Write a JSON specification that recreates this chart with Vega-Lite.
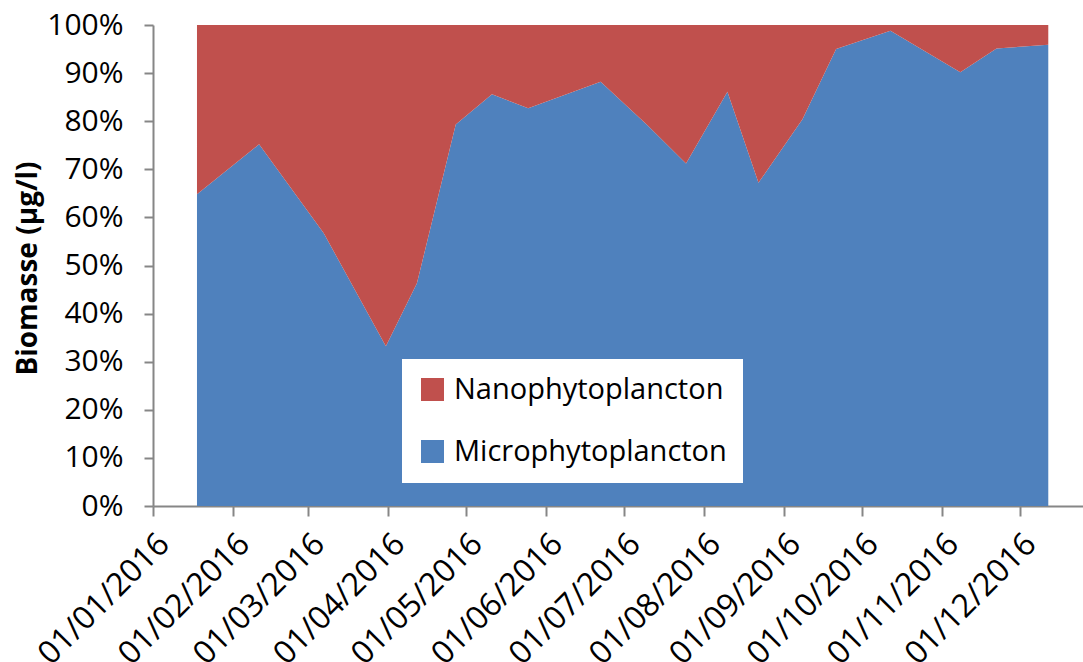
{
  "$schema": "https://vega.github.io/schema/vega-lite/v6.json",
  "autosize": {"type": "none"},
  "padding": {"left": 153, "top": 25, "right": 0, "bottom": 156},
  "width": 930,
  "height": 481,
  "background": "white",
  "config": {
    "view": {"stroke": null},
    "font": "Open Sans"
  },
  "data": {
    "values": [
      {"date": "2016-01-18", "serie": "Microphytoplancton", "pct": 64.8},
      {"date": "2016-02-11", "serie": "Microphytoplancton", "pct": 75.2},
      {"date": "2016-03-07", "serie": "Microphytoplancton", "pct": 56.7},
      {"date": "2016-03-31", "serie": "Microphytoplancton", "pct": 33.2},
      {"date": "2016-04-12", "serie": "Microphytoplancton", "pct": 46.3},
      {"date": "2016-04-27", "serie": "Microphytoplancton", "pct": 79.3},
      {"date": "2016-05-11", "serie": "Microphytoplancton", "pct": 85.6},
      {"date": "2016-05-25", "serie": "Microphytoplancton", "pct": 82.7},
      {"date": "2016-06-22", "serie": "Microphytoplancton", "pct": 88.2},
      {"date": "2016-07-10", "serie": "Microphytoplancton", "pct": 79.2},
      {"date": "2016-07-25", "serie": "Microphytoplancton", "pct": 71.2},
      {"date": "2016-08-10", "serie": "Microphytoplancton", "pct": 86.1},
      {"date": "2016-08-22", "serie": "Microphytoplancton", "pct": 67.2},
      {"date": "2016-09-08", "serie": "Microphytoplancton", "pct": 80.4},
      {"date": "2016-09-21", "serie": "Microphytoplancton", "pct": 95.0},
      {"date": "2016-10-12", "serie": "Microphytoplancton", "pct": 98.8},
      {"date": "2016-11-08", "serie": "Microphytoplancton", "pct": 90.2},
      {"date": "2016-11-22", "serie": "Microphytoplancton", "pct": 95.1},
      {"date": "2016-12-12", "serie": "Microphytoplancton", "pct": 95.9},
      {"date": "2016-01-18", "serie": "Nanophytoplancton", "pct": 35.2},
      {"date": "2016-02-11", "serie": "Nanophytoplancton", "pct": 24.8},
      {"date": "2016-03-07", "serie": "Nanophytoplancton", "pct": 43.3},
      {"date": "2016-03-31", "serie": "Nanophytoplancton", "pct": 66.8},
      {"date": "2016-04-12", "serie": "Nanophytoplancton", "pct": 53.7},
      {"date": "2016-04-27", "serie": "Nanophytoplancton", "pct": 20.7},
      {"date": "2016-05-11", "serie": "Nanophytoplancton", "pct": 14.4},
      {"date": "2016-05-25", "serie": "Nanophytoplancton", "pct": 17.3},
      {"date": "2016-06-22", "serie": "Nanophytoplancton", "pct": 11.8},
      {"date": "2016-07-10", "serie": "Nanophytoplancton", "pct": 20.8},
      {"date": "2016-07-25", "serie": "Nanophytoplancton", "pct": 28.8},
      {"date": "2016-08-10", "serie": "Nanophytoplancton", "pct": 13.9},
      {"date": "2016-08-22", "serie": "Nanophytoplancton", "pct": 32.8},
      {"date": "2016-09-08", "serie": "Nanophytoplancton", "pct": 19.6},
      {"date": "2016-09-21", "serie": "Nanophytoplancton", "pct": 5.0},
      {"date": "2016-10-12", "serie": "Nanophytoplancton", "pct": 1.2},
      {"date": "2016-11-08", "serie": "Nanophytoplancton", "pct": 9.8},
      {"date": "2016-11-22", "serie": "Nanophytoplancton", "pct": 4.9},
      {"date": "2016-12-12", "serie": "Nanophytoplancton", "pct": 4.1}
    ]
  },
  "mark": {"type": "area", "interpolate": "linear", "opacity": 1},
  "encoding": {
    "x": {
      "field": "date",
      "type": "temporal",
      "scale": {
        "type": "utc",
        "domain": [
          {"year": 2016, "month": 1, "date": 1, "utc": true},
          {"year": 2016, "month": 12, "date": 25, "hours": 10, "utc": true}
        ]
      },
      "axis": {
        "title": null,
        "grid": false,
        "values": [
          {"year": 2016, "month": 1, "date": 1, "utc": true},
          {"year": 2016, "month": 2, "date": 1, "utc": true},
          {"year": 2016, "month": 3, "date": 1, "utc": true},
          {"year": 2016, "month": 4, "date": 1, "utc": true},
          {"year": 2016, "month": 5, "date": 1, "utc": true},
          {"year": 2016, "month": 6, "date": 1, "utc": true},
          {"year": 2016, "month": 7, "date": 1, "utc": true},
          {"year": 2016, "month": 8, "date": 1, "utc": true},
          {"year": 2016, "month": 9, "date": 1, "utc": true},
          {"year": 2016, "month": 10, "date": 1, "utc": true},
          {"year": 2016, "month": 11, "date": 1, "utc": true},
          {"year": 2016, "month": 12, "date": 1, "utc": true}
        ],
        "labelExpr": "utcFormat(datum.value, '%d/%m/%Y')",
        "labelAngle": -45,
        "labelAlign": "right",
        "labelBaseline": "top",
        "labelPadding": 12,
        "labelOverlap": false,
        "labelFlush": false,
        "labelBound": false,
        "labelLimit": 400,
        "labelFont": "Open Sans",
        "labelFontSize": 32,
        "labelColor": "#000000",
        "domainColor": "#868686",
        "domainWidth": 2,
        "tickColor": "#868686",
        "tickWidth": 2,
        "tickSize": 10
      }
    },
    "y": {
      "field": "pct",
      "type": "quantitative",
      "stack": "zero",
      "scale": {"domain": [0, 100], "nice": false, "zero": true},
      "axis": {
        "title": "Biomasse (µg/l)",
        "titleFont": "Open Sans",
        "titleFontSize": 28,
        "titleFontWeight": "bold",
        "titleColor": "#000000",
        "titleAngle": -90,
        "titleAlign": "center",
        "titleBaseline": "alphabetic",
        "titleX": -117,
        "titleY": 243,
        "grid": false,
        "values": [0, 10, 20, 30, 40, 50, 60, 70, 80, 90, 100],
        "labelExpr": "datum.value + '%'",
        "labelFont": "Open Sans",
        "labelFontSize": 30,
        "labelColor": "#000000",
        "labelPadding": 21,
        "labelFlush": false,
        "labelOverlap": false,
        "domainColor": "#868686",
        "domainWidth": 2,
        "tickColor": "#868686",
        "tickWidth": 2,
        "tickSize": 9
      }
    },
    "color": {
      "field": "serie",
      "type": "nominal",
      "scale": {
        "domain": ["Nanophytoplancton", "Microphytoplancton"],
        "range": ["#C0504D", "#4F81BD"]
      },
      "legend": {
        "title": null,
        "orient": "none",
        "legendX": 249,
        "legendY": 334,
        "fillColor": "#FFFFFF",
        "padding": 16,
        "symbolType": "square",
        "symbolSize": 529,
        "symbolStrokeWidth": 0,
        "labelFont": "Open Sans",
        "labelFontSize": 29,
        "labelLimit": 400,
        "labelColor": "#000000",
        "labelOffset": 7,
        "rowPadding": 32,
        "direction": "vertical"
      }
    },
    "order": {"field": "serie", "sort": "ascending"}
  }
}
